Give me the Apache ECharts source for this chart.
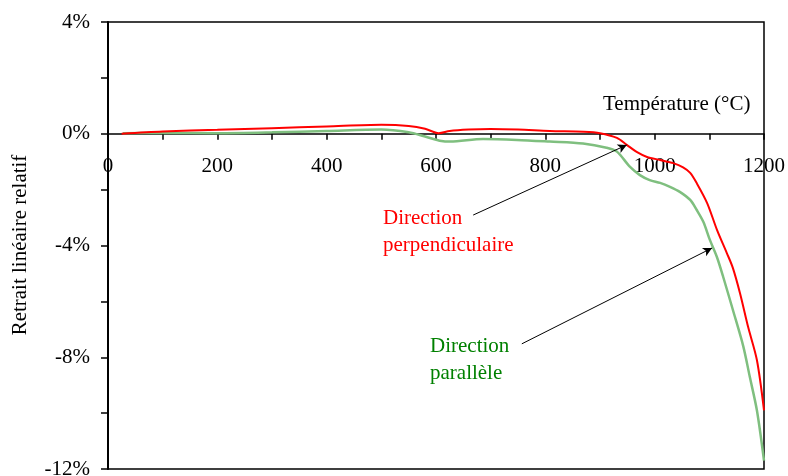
<!DOCTYPE html>
<html>
<head>
<meta charset="utf-8">
<script src="https://cdn.jsdelivr.net/npm/echarts@6/dist/echarts.min.js"></script>
<style>
html,body{margin:0;padding:0;background:#fff;}
#chart{width:788px;height:476px;}
</style>
</head>
<body>
<div id="chart"></div>
<script>
// Data (temperature in °C, relative linear shrinkage in %)
const perpTemps = [25,100,200,300,400,500,550,580,605,625,660,700,750,808,870,900,931,949,967,986,1010,1034,1052,1065,1077,1096,1114,1132,1143,1156,1171,1187,1200];
const perpValues = [0,0.08,0.14,0.2,0.26,0.32,0.28,0.18,0.02,0.1,0.15,0.17,0.15,0.1,0.07,0.02,-0.15,-0.4,-0.65,-0.83,-0.94,-1.05,-1.2,-1.4,-1.77,-2.48,-3.44,-4.27,-4.8,-5.7,-6.92,-8.1,-9.9];
const paraTemps = [27,100,200,300,400,500,550,580,610,626,686,748,808,869,912,931,955,973,991,1010,1028,1046,1065,1077,1089,1101,1114,1125,1143,1162,1174,1187,1200];
const paraValues = [0.02,0.03,0.02,0.05,0.1,0.15,0.05,-0.1,-0.26,-0.28,-0.19,-0.22,-0.28,-0.35,-0.5,-0.64,-1.19,-1.48,-1.66,-1.76,-1.9,-2.08,-2.37,-2.73,-3.15,-3.8,-4.42,-5.1,-6.3,-7.6,-8.7,-9.9,-11.7];
const yTicks = [-12,-8,-4,0,4];
const xTicks = [0,200,400,600,800,1000,1200];
const perpLabel = ['Direction', 'perpendiculaire'];
const paraLabel = ['Direction', 'parallèle'];
const perpArrow = [[668,-2.91],[949,-0.40]];
const paraArrow = [[757,-7.52],[1105,-4.09]];

const FONT = '"Liberation Serif","Times New Roman",serif';
const pair = (t, v) => t.map((x, i) => [x, v[i]]);

const W = 788, H = 476;
const G = {left:108, right:24, top:22, bottom:7};
const Y_MIN = -12, Y_MAX = 4;
// shift the x axis up so that it crosses the y axis at 0 %
const plotH = H - G.top - G.bottom;
const xOffset = -plotH * (0 - Y_MIN) / (Y_MAX - Y_MIN);

const chart = echarts.init(document.getElementById('chart'), null, {renderer:'canvas'});
chart.setOption({
  animation:false,
  backgroundColor:'#fff',
  grid:{left:G.left,right:G.right,top:G.top,bottom:G.bottom,containLabel:false,outerBoundsMode:'none',
    show:true,borderColor:'#000',borderWidth:1.5,backgroundColor:'transparent'},
  xAxis:{
    type:'value',min:0,max:1200,interval:100,position:'bottom',offset:xOffset,
    axisLine:{onZero:false,lineStyle:{color:'#000',width:1.5}},
    axisTick:{show:true,inside:false,length:6,lineStyle:{color:'#000',width:1.5}},
    axisLabel:{margin:22,color:'#000',fontFamily:FONT,fontSize:21,hideOverlap:false,
      formatter:v=>xTicks.indexOf(v)>=0?String(v):''},
    splitLine:{show:false}
  },
  yAxis:{
    type:'value',min:Y_MIN,max:Y_MAX,interval:2,
    axisLine:{show:true,onZero:false,lineStyle:{color:'#000',width:2}},
    axisTick:{show:true,inside:false,length:7,lineStyle:{color:'#000',width:1.5}},
    axisLabel:{margin:18,color:'#000',fontFamily:FONT,fontSize:21,
      formatter:v=>yTicks.indexOf(v)>=0?(v+'%'):''},
    splitLine:{show:false}
  },
  series:[
    {name:'Direction parallèle',type:'line',data:pair(paraTemps,paraValues),showSymbol:false,
     smooth:0.3,lineStyle:{color:'#7fbf7f',width:2.5},z:2,
     markLine:{silent:true,symbol:['none','arrow'],symbolSize:[7,9],label:{show:false},
       lineStyle:{color:'#000',width:1,type:'solid'},
       data:[[{coord:paraArrow[0]},{coord:paraArrow[1]}]]}},
    {name:'Direction perpendiculaire',type:'line',data:pair(perpTemps,perpValues),showSymbol:false,
     smooth:0.3,lineStyle:{color:'#ff0000',width:2},z:3,
     markLine:{silent:true,symbol:['none','arrow'],symbolSize:[7,9],label:{show:false},
       lineStyle:{color:'#000',width:1,type:'solid'},
       data:[[{coord:perpArrow[0]},{coord:perpArrow[1]}]]}}
  ],
  graphic:[
    {type:'text',left:603,top:94,style:{text:'Température (°C)',font:'21px '+FONT,fill:'#000'}},
    {type:'text',left:383,top:205,style:{text:perpLabel.join('\n'),font:'21px '+FONT,fill:'#ff0000',lineHeight:27}},
    {type:'text',left:430,top:333,style:{text:paraLabel.join('\n'),font:'21px '+FONT,fill:'#008000',lineHeight:27}},
    {type:'text',x:20,y:245,rotation:Math.PI/2,style:{text:'Retrait linéaire relatif',font:'21px '+FONT,fill:'#000',align:'center',verticalAlign:'middle'}}
  ]
});
</script>
</body>
</html>
